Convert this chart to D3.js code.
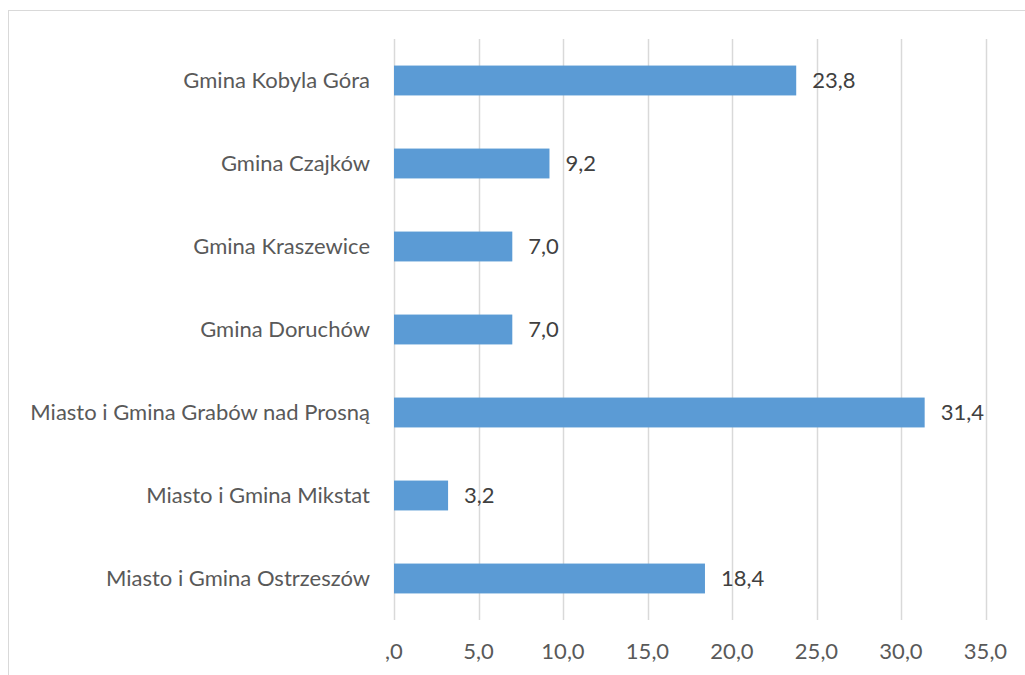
<!DOCTYPE html>
<html><head><meta charset="utf-8">
<script src="https://cdn.jsdelivr.net/npm/d3@7"></script>
<style>body{margin:0;background:#fff}svg{display:block}</style>
</head><body>
<svg id="c" width="1025" height="675"></svg>
<script>
const categories = ["Gmina Kobyla Góra","Gmina Czajków","Gmina Kraszewice","Gmina Doruchów","Miasto i Gmina Grabów nad Prosną","Miasto i Gmina Mikstat","Miasto i Gmina Ostrzeszów"];
const values = [23.8, 9.2, 7.0, 7.0, 31.4, 3.2, 18.4];
const tickValues = [0,5,10,15,20,25,30,35];
const tickLabels = [",0","5,0","10,0","15,0","20,0","25,0","30,0","35,0"];

const svg = d3.select("#c");
const font = "Lato, 'Open Sans', sans-serif";
svg.append("rect").attr("x",8.5).attr("y",10.5).attr("width",1030).attr("height",700)
  .attr("fill","#fff").attr("stroke","#d9d9d9").attr("stroke-width",1);

const x = d3.scaleLinear().domain([0,35]).range([394,985.5]);
const y = d3.scaleBand().domain(categories).range([39,620]).paddingInner(0.64).paddingOuter(0.32);

svg.append("g").selectAll("line").data(tickValues).join("line")
  .attr("x1",d=>Math.round(x(d))+0.5).attr("x2",d=>Math.round(x(d))+0.5)
  .attr("y1",39).attr("y2",620).attr("stroke","#d9d9d9").attr("stroke-width",1.5);

svg.append("g").selectAll("text").data(tickValues).join("text")
  .attr("x",d=>x(d)).attr("y",659).attr("text-anchor","middle")
  .attr("font-family",font).attr("font-size",22).attr("fill","#595959")
  .text((d,i)=>tickLabels[i]);

svg.append("g").selectAll("rect").data(values).join("rect")
  .attr("x",x(0)).attr("y",(d,i)=>y(categories[i]))
  .attr("width",d=>x(d)-x(0)).attr("height",y.bandwidth()).attr("fill","#5B9BD5");

svg.append("g").selectAll("text").data(values).join("text")
  .attr("x",d=>x(d)+16).attr("y",(d,i)=>y(categories[i])+y.bandwidth()/2).attr("dy","0.36em")
  .attr("font-family",font).attr("font-size",22).attr("fill","#404040")
  .text(d=>d.toFixed(1).replace(".",","));

svg.append("g").selectAll("text").data(categories).join("text")
  .attr("x",370).attr("y",d=>y(d)+y.bandwidth()/2).attr("dy","0.36em").attr("text-anchor","end")
  .attr("font-family",font).attr("font-size",22).attr("fill","#595959")
  .text(d=>d);
</script>
</body></html>
